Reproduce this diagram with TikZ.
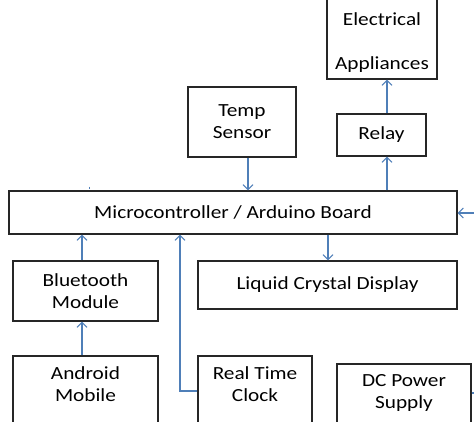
\documentclass[tikz,border=0pt]{standalone}
\usepackage{fontspec}
\setmainfont{Carlito}[FakeStretch=1.15]
\usetikzlibrary{arrows.meta}
\definecolor{boxc}{HTML}{262626}
\definecolor{arrc}{HTML}{4F7FB8}
\tikzset{
  box/.style={draw=boxc, line width=1.1pt, inner sep=0pt, align=center,
    font=\fontsize{18.5}{22}\selectfont, text=black},
  lbl/.style={inner sep=0pt, align=center, font=\fontsize{18.5}{22}\selectfont, text=black},
  conn/.style={draw=arrc, line width=1.1pt},
  arr/.style={conn, -{Straight Barb[length=5pt,width=10pt,line width=1.1pt]}}
}
\begin{document}
\begin{tikzpicture}[x=1pt,y=-1pt]
\useasboundingbox (0,0) rectangle (474,421);
\clip (0,0) rectangle (474,421);
% boxes
\node[box, minimum width=448pt, minimum height=43pt] (mc) at (233,212.5) {Microcontroller / Arduino Board};
\node[box, minimum width=89pt, minimum height=42pt] (relay) at (381.5,135) {Relay};
\node[box, minimum width=108pt, minimum height=70pt] (temp) at (242,122) {Temp\\Sensor};
\node[box, minimum width=145pt, minimum height=60pt] (bt) at (85.5,291) {Bluetooth\\Module};
\node[box, minimum width=259pt, minimum height=48pt] (lcd) at (327.5,285) {Liquid Crystal Display};
\node[box, minimum width=110pt, minimum height=99pt] (ea) at (382,29.5) {};
\node[lbl, font=\fontsize{18.5}{44}\selectfont] (eat) at (382,43) {Electrical\\Appliances};
\node[box, minimum width=145pt, minimum height=84pt] (android) at (85.5,398) {};
\node[lbl] (andt) at (85.5,384) {Android\\Mobile};
\node[box, minimum width=114pt, minimum height=84pt] (rtc) at (255,398) {};
\node[lbl] (rtct) at (255,384) {Real Time\\Clock};
\node[box, minimum width=134pt, minimum height=86pt] (dc) at (404,407) {};
\node[lbl] (dct) at (404,393) {DC Power\\Supply};
% coordinates for free ends
\coordinate (rtcx) at (180,0);
\coordinate (lcdx) at (328,0);
\coordinate (rin) at (474,213);
\coordinate (dcs) at (474,393);
\coordinate (stub) at (89,186.5);
% connectors
\draw[arr] ([xshift=6pt]temp.south) -- ([xshift=6pt]temp.south |- mc.north);
\draw[arr] ([xshift=5.5pt]relay.south |- mc.north) -- ([xshift=5.5pt]relay.south);
\draw[arr] ([xshift=5.5pt]relay.north) -- ([xshift=5.5pt]relay.north |- ea.south);
\draw[arr] ([xshift=-3.5pt]bt.north) -- ([xshift=-3.5pt]bt.north |- mc.south);
\draw[arr] ([xshift=-3.5pt]android.north) -- ([xshift=-3.5pt]android.north |- bt.south);
\draw[arr] ([yshift=7pt]rtc.west) -| (mc.south -| rtcx);
\draw[arr] (mc.south -| lcdx) -- (lcd.north -| lcdx);
\draw[arr] (rin) -- (rin -| mc.east);
\draw[conn] ([yshift=14pt]dc.east) -- (dcs);
\draw[draw=arrc, line width=0.8pt] (stub) -- ++(0,2);
\end{tikzpicture}
\end{document}
